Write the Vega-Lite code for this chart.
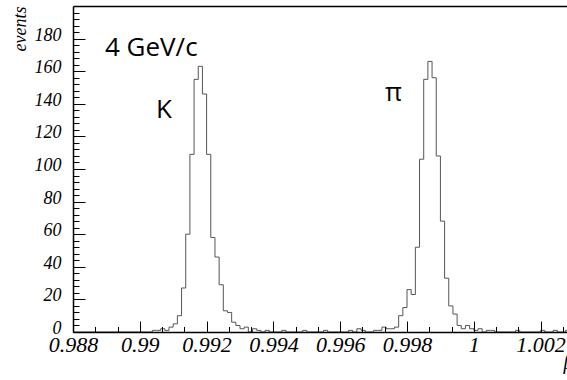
{
  "$schema": "https://vega.github.io/schema/vega-lite/v6.json",
  "width": 494,
  "height": 326,
  "autosize": {"type": "none"},
  "padding": {"left": 73, "top": 6, "right": 0, "bottom": 48},
  "background": "white",
  "view": {"stroke": null},
  "datasets": {
    "hist": [
      {"beta": 0.988, "count": 0}, {"beta": 0.988125, "count": 0}, {"beta": 0.98825, "count": 0}, {"beta": 0.988375, "count": 0},
      {"beta": 0.9885, "count": 0}, {"beta": 0.988625, "count": 0}, {"beta": 0.98875, "count": 0}, {"beta": 0.988875, "count": 0},
      {"beta": 0.989, "count": 0}, {"beta": 0.989125, "count": 0}, {"beta": 0.98925, "count": 0}, {"beta": 0.989375, "count": 0},
      {"beta": 0.9895, "count": 0}, {"beta": 0.989625, "count": 0}, {"beta": 0.98975, "count": 0}, {"beta": 0.989875, "count": 0},
      {"beta": 0.99, "count": 0}, {"beta": 0.990125, "count": 0}, {"beta": 0.99025, "count": 0}, {"beta": 0.990375, "count": 1},
      {"beta": 0.9905, "count": 1}, {"beta": 0.990625, "count": 2}, {"beta": 0.99075, "count": 1}, {"beta": 0.990875, "count": 3},
      {"beta": 0.991, "count": 5}, {"beta": 0.991125, "count": 10}, {"beta": 0.99125, "count": 27}, {"beta": 0.991375, "count": 60},
      {"beta": 0.9915, "count": 109}, {"beta": 0.991625, "count": 155}, {"beta": 0.99175, "count": 163}, {"beta": 0.991875, "count": 146},
      {"beta": 0.992, "count": 109}, {"beta": 0.992125, "count": 58}, {"beta": 0.99225, "count": 46}, {"beta": 0.992375, "count": 29},
      {"beta": 0.9925, "count": 13}, {"beta": 0.992625, "count": 12}, {"beta": 0.99275, "count": 6}, {"beta": 0.992875, "count": 4},
      {"beta": 0.993, "count": 2}, {"beta": 0.993125, "count": 3}, {"beta": 0.99325, "count": 0}, {"beta": 0.993375, "count": 2},
      {"beta": 0.9935, "count": 1}, {"beta": 0.993625, "count": 0}, {"beta": 0.99375, "count": 1}, {"beta": 0.993875, "count": 0},
      {"beta": 0.994, "count": 0}, {"beta": 0.994125, "count": 0}, {"beta": 0.99425, "count": 1}, {"beta": 0.994375, "count": 0},
      {"beta": 0.9945, "count": 0}, {"beta": 0.994625, "count": 0}, {"beta": 0.99475, "count": 0}, {"beta": 0.994875, "count": 1},
      {"beta": 0.995, "count": 0}, {"beta": 0.995125, "count": 0}, {"beta": 0.99525, "count": 0}, {"beta": 0.995375, "count": 0},
      {"beta": 0.9955, "count": 1}, {"beta": 0.995625, "count": 0}, {"beta": 0.99575, "count": 0}, {"beta": 0.995875, "count": 0},
      {"beta": 0.996, "count": 0}, {"beta": 0.996125, "count": 0}, {"beta": 0.99625, "count": 1}, {"beta": 0.996375, "count": 0},
      {"beta": 0.9965, "count": 2}, {"beta": 0.996625, "count": 1}, {"beta": 0.99675, "count": 0}, {"beta": 0.996875, "count": 0},
      {"beta": 0.997, "count": 1}, {"beta": 0.997125, "count": 1}, {"beta": 0.99725, "count": 3}, {"beta": 0.997375, "count": 2},
      {"beta": 0.9975, "count": 2}, {"beta": 0.997625, "count": 3}, {"beta": 0.99775, "count": 10}, {"beta": 0.997875, "count": 15},
      {"beta": 0.998, "count": 26}, {"beta": 0.998125, "count": 23}, {"beta": 0.99825, "count": 52}, {"beta": 0.998375, "count": 106},
      {"beta": 0.9985, "count": 155}, {"beta": 0.998625, "count": 166}, {"beta": 0.99875, "count": 156}, {"beta": 0.998875, "count": 108},
      {"beta": 0.999, "count": 68}, {"beta": 0.999125, "count": 33}, {"beta": 0.99925, "count": 16}, {"beta": 0.999375, "count": 11},
      {"beta": 0.9995, "count": 4}, {"beta": 0.999625, "count": 2}, {"beta": 0.99975, "count": 4}, {"beta": 0.999875, "count": 2},
      {"beta": 1.0, "count": 1}, {"beta": 1.000125, "count": 2}, {"beta": 1.00025, "count": 0}, {"beta": 1.000375, "count": 1},
      {"beta": 1.0005, "count": 1}, {"beta": 1.000625, "count": 0}, {"beta": 1.00075, "count": 0}, {"beta": 1.000875, "count": 0},
      {"beta": 1.001, "count": 0}, {"beta": 1.001125, "count": 0}, {"beta": 1.00125, "count": 1}, {"beta": 1.001375, "count": 0},
      {"beta": 1.0015, "count": 0}, {"beta": 1.001625, "count": 0}, {"beta": 1.00175, "count": 0}, {"beta": 1.001875, "count": 0},
      {"beta": 1.002, "count": 1}, {"beta": 1.002125, "count": 0}, {"beta": 1.00225, "count": 0}, {"beta": 1.002375, "count": 1},
      {"beta": 1.0025, "count": 0}, {"beta": 1.002625, "count": 0}, {"beta": 1.00275, "count": 1}, {"beta": 1.002875, "count": 0}
    ],
    "momentum": [{"label": "4 GeV/c", "beta": 0.988958, "count": 169.3}],
    "peaks": [
      {"label": "K", "beta": 0.990485, "count": 131.3},
      {"label": "π", "beta": 0.997341, "count": 141.7}
    ]
  },
  "layer": [
    {
      "data": {"name": "hist"},
      "mark": {"type": "line", "interpolate": "step-after", "color": "#555555", "strokeWidth": 1, "clip": true},
      "encoding": {
        "x": {
          "field": "beta", "type": "quantitative",
          "scale": {"domain": [0.988, 1.00279], "nice": false, "zero": false},
          "axis": {
            "orient": "bottom",
            "values": [0.988, 0.99, 0.992, 0.994, 0.996, 0.998, 1, 1.002],
            "tickSize": -11, "tickWidth": 1, "tickColor": "black",
            "domainColor": "black", "domainWidth": 1.5,
            "labelFont": "Liberation Serif", "labelFontStyle": "italic", "labelFontSize": 22, "labelColor": "black",
            "labelPadding": 13, "labelExpr": "format(datum.value, '~g')", "labelFlush": false, "labelOverlap": false,
            "grid": false, "zindex": 1,
            "title": "β", "titleFont": "Liberation Serif", "titleFontStyle": "italic", "titleFontWeight": "normal",
            "titleFontSize": 20, "titleColor": "black", "titleX": 490, "titleY": 36, "titleAlign": "left", "titleBaseline": "alphabetic"
          }
        },
        "y": {
          "field": "count", "type": "quantitative",
          "scale": {"domain": [0, 200], "nice": false, "zero": true},
          "axis": {
            "orient": "left",
            "values": [0, 20, 40, 60, 80, 100, 120, 140, 160, 180],
            "tickSize": -12, "tickWidth": 1, "tickColor": "black",
            "domainColor": "black", "domainWidth": 1.5,
            "labelFont": "Liberation Serif", "labelFontStyle": "italic", "labelFontSize": 18, "labelColor": "black",
            "labelPadding": 24, "labelBaseline": "alphabetic", "labelOffset": 1.5, "labelFlush": false, "labelOverlap": false,
            "grid": false, "zindex": 1,
            "title": "events", "titleFont": "Liberation Serif", "titleFontStyle": "italic", "titleFontWeight": "normal",
            "titleFontSize": 18, "titleColor": "black", "titleX": -48, "titleY": 0, "titleAngle": -90,
            "titleAlign": "right", "titleBaseline": "alphabetic"
          }
        }
      }
    },
    {
      "data": {"name": "momentum"},
      "mark": {"type": "text", "align": "left", "baseline": "alphabetic", "font": "Open Sans", "fontSize": 26, "color": "black"},
      "encoding": {
        "x": {
          "field": "beta", "type": "quantitative",
          "scale": {"domain": [0.988, 1.00279], "nice": false, "zero": false},
          "axis": {
            "orient": "bottom",
            "values": [0.988667, 0.989333, 0.990667, 0.991333, 0.992667, 0.993333, 0.994667, 0.995333, 0.996667, 0.997333, 0.998667, 0.999333, 1.000667, 1.001333, 1.002667],
            "tickSize": -5.5, "tickWidth": 1, "tickColor": "black",
            "labels": false, "domain": false, "grid": false, "title": null, "zindex": 1
          }
        },
        "y": {
          "field": "count", "type": "quantitative",
          "scale": {"domain": [0, 200], "nice": false, "zero": true},
          "axis": {
            "orient": "left",
            "values": [4, 8, 12, 16, 24, 28, 32, 36, 44, 48, 52, 56, 64, 68, 72, 76, 84, 88, 92, 96, 104, 108, 112, 116, 124, 128, 132, 136, 144, 148, 152, 156, 164, 168, 172, 176, 184, 188, 192, 196],
            "tickSize": -6, "tickWidth": 1, "tickColor": "black",
            "labels": false, "domain": false, "grid": false, "title": null, "zindex": 1
          }
        },
        "text": {"field": "label", "type": "nominal"}
      }
    },
    {
      "data": {"name": "peaks"},
      "mark": {"type": "text", "align": "left", "baseline": "alphabetic", "font": "Open Sans", "fontSize": 26, "color": "black"},
      "encoding": {
        "x": {
          "field": "beta", "type": "quantitative",
          "scale": {"domain": [0.988, 1.00279], "nice": false, "zero": false},
          "axis": {
            "orient": "top", "ticks": false, "labels": false, "domain": true,
            "domainColor": "black", "domainWidth": 1.5, "grid": false, "title": null, "zindex": 1
          }
        },
        "y": {
          "field": "count", "type": "quantitative",
          "scale": {"domain": [0, 200], "nice": false, "zero": true},
          "axis": null
        },
        "text": {"field": "label", "type": "nominal"}
      }
    }
  ],
  "resolve": {"axis": {"x": "independent", "y": "independent"}}
}
